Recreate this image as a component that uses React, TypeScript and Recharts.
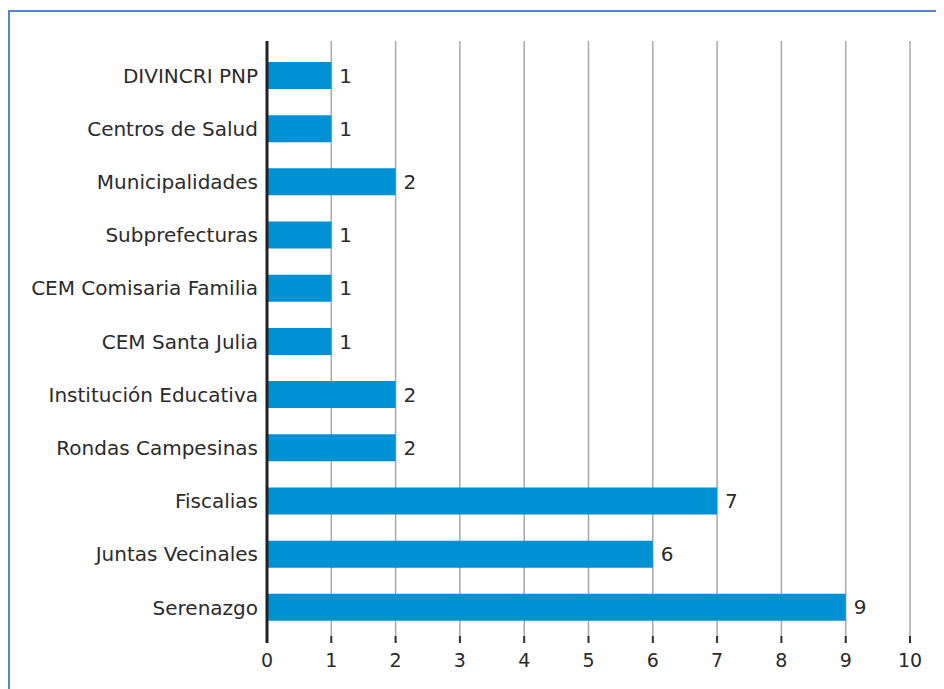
import { BarChart, Bar, XAxis, YAxis, CartesianGrid, LabelList } from 'recharts';

const categories = [
    'DIVINCRI PNP',
    'Centros de Salud',
    'Municipalidades',
    'Subprefecturas',
    'CEM Comisaria Familia',
    'CEM Santa Julia',
    'Institución Educativa',
    'Rondas Campesinas',
    'Fiscalias',
    'Juntas Vecinales',
    'Serenazgo',
];

const counts = [1, 1, 2, 1, 1, 1, 2, 2, 7, 6, 9];

const xTicks = [0, 1, 2, 3, 4, 5, 6, 7, 8, 9, 10];

const data = categories.map((name, i) => ({ name, value: counts[i] }));

const FONT = '"DejaVu Sans", sans-serif';

export default function App() {
    return (
        <div style={{ paddingTop: 2 }}>
            <div
                style={{
                    borderLeft: '2px solid #5584cc',
                    borderTop: '2px solid #5584cc',
                    width: 934,
                    height: 677,
                    background: '#fff',
                }}
            >
                <BarChart
                    width={934}
                    height={677}
                    data={data}
                    layout="vertical"
                    margin={{ top: 29, right: 34, bottom: 6, left: 0 }}
                >
                    <CartesianGrid horizontal={false} stroke="#a8a8a8" strokeWidth={1.5} />
                    <XAxis
                        type="number"
                        domain={[0, 10]}
                        ticks={xTicks}
                        interval={0}
                        axisLine={false}
                        tickSize={-7}
                        tickMargin={18}
                        tickLine={{ stroke: '#333', strokeWidth: 2 }}
                        height={40}
                        tick={{ fill: '#2b2b2b', fontSize: 19, fontFamily: FONT }}
                    />
                    <YAxis
                        type="category"
                        dataKey="name"
                        width={257}
                        padding={{ top: 8, bottom: 9 }}
                        tickLine={false}
                        tickSize={0}
                        tickMargin={9}
                        axisLine={{ stroke: '#222', strokeWidth: 3 }}
                        tick={{ fill: '#2b2b2b', fontSize: 20, fontFamily: FONT }}
                    />
                    <Bar dataKey="value" fill="#0091d5" barSize={27} isAnimationActive={false}>
                        <LabelList
                            dataKey="value"
                            position="right"
                            offset={8}
                            fill="#2b2b2b"
                            fontSize={20}
                            fontFamily={FONT}
                        />
                    </Bar>
                </BarChart>
            </div>
        </div>
    );
}
